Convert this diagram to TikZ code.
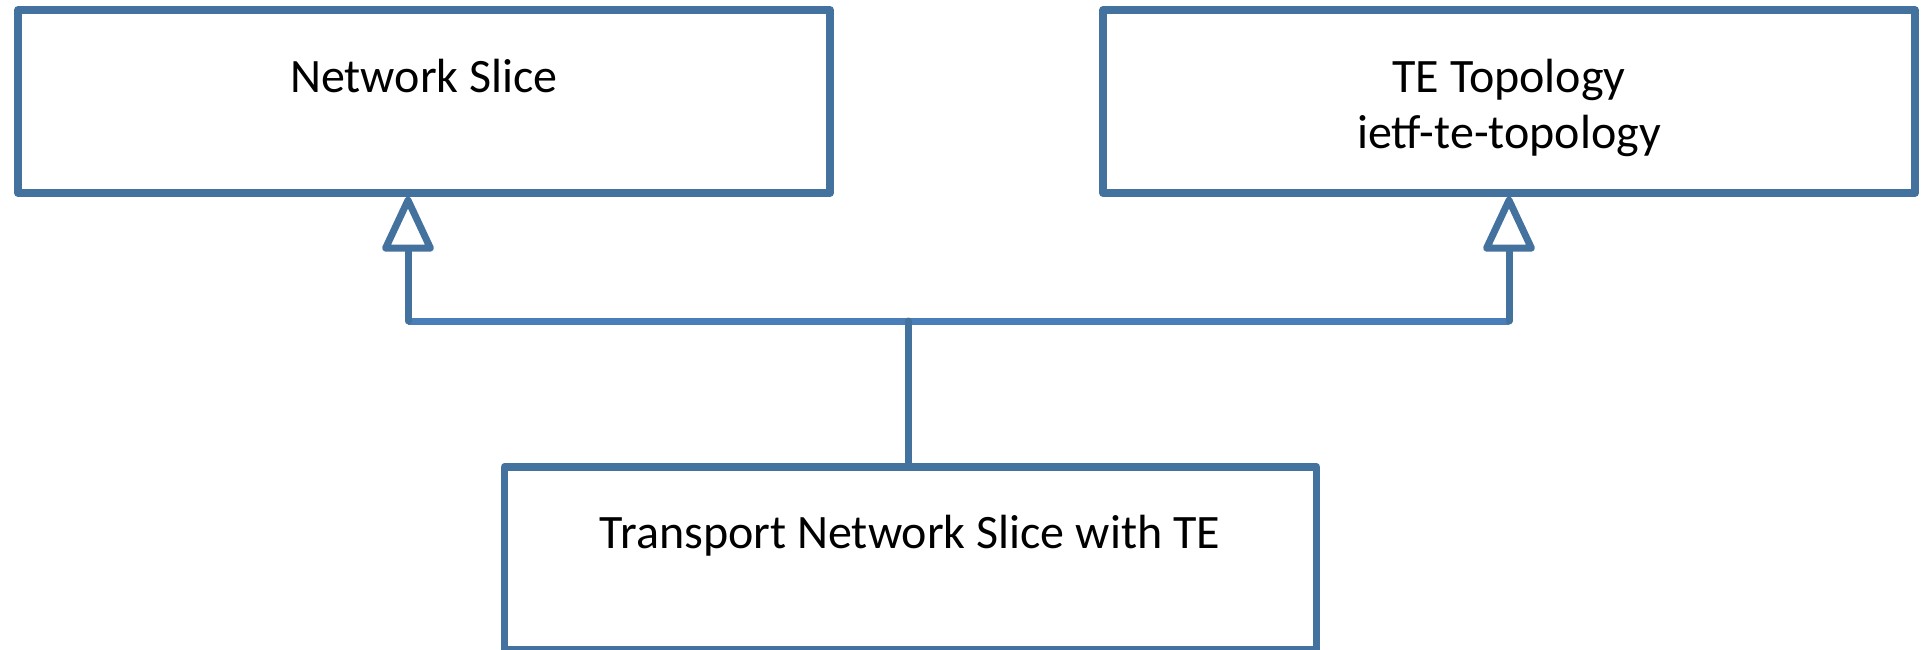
\documentclass[tikz,border=0pt]{standalone}
\usepackage{fontspec}
\setmainfont{Carlito}
\usetikzlibrary{arrows.meta}
\definecolor{boxblue}{RGB}{68,114,158}
\definecolor{lineblue}{RGB}{74,126,187}
\tikzset{
  box/.style={draw=boxblue, line width=3.75pt, line join=round, fill=white, inner sep=0pt, minimum width=406pt, minimum height=91.5pt},
  lbl/.style={anchor=base, inner sep=0pt, font=\fontsize{24}{28}\selectfont, text=black},
  conn/.style={draw=boxblue, line width=3.5pt, line cap=round, line join=round},
  inherit/.style={conn, -{Triangle[open, round, length=30pt, width=27pt, fill=white]}}
}
\begin{document}
\begin{tikzpicture}[x=0.5pt,y=-0.5pt]
\useasboundingbox (0,0) rectangle (1922,649);
\node[box] (ns) at (424,101.5) {};
\node[box] (te) at (1509,101.5) {};
\node[box] (tr) at (910.5,558.5) {};
\node[lbl] (nst) at (424,92) {Network Slice};
\node[lbl] (tet1) at (1509,92) {TE Topology};
\node[lbl] (tet2) at (1509,148) {ietf-te-topology};
\node[lbl] (trt) at (910,548) {Transport Network Slice with TE};
\coordinate (jl) at (408,321);
\coordinate (jr) at (1509,321);
\coordinate (j) at (908,321);
\draw[conn, draw=lineblue, line cap=butt] (jl) -- (jr);
\draw[conn] (j |- tr.north) -- (j);
\draw[inherit] (jl) -- (jl |- ns.south);
\draw[inherit] (jr) -- (jr |- te.south);
\end{tikzpicture}
\end{document}
